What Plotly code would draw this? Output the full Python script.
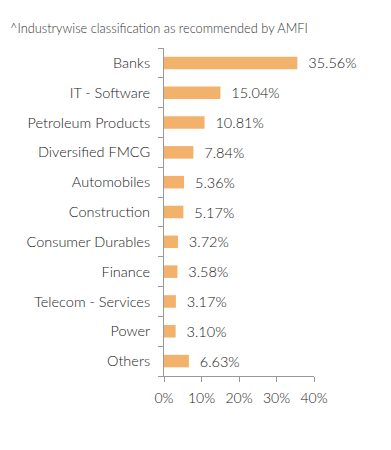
import plotly.graph_objects as go

categories = ["Banks", "IT - Software", "Petroleum Products", "Diversified FMCG", "Automobiles",
              "Construction", "Consumer Durables", "Finance", "Telecom - Services", "Power", "Others"]
values = [35.56, 15.04, 10.81, 7.84, 5.36, 5.17, 3.72, 3.58, 3.17, 3.10, 6.63]
labels = ["35.56%", "15.04%", "10.81%", "7.84%", "5.36%", "5.17%", "3.72%", "3.58%", "3.17%", "3.10%", "6.63%"]
x_ticks = [0, 10, 20, 30, 40]
x_tick_labels = ["0%", "10%", "20%", "30%", "40%"]

fig = go.Figure(go.Bar(
    x=values, y=categories, orientation="h",
    marker=dict(color="#F2B26B", line=dict(width=0)),
    width=0.42,
    text=["  " + t for t in labels], textposition="outside",
    textfont=dict(size=14.5, color="#222222", family="Lato", weight=300),
    constraintext="none",
    cliponaxis=False,
))

fig.update_layout(
    width=383, height=442,
    margin=dict(l=156, r=77, t=40, b=74, autoexpand=False),
    plot_bgcolor="white", paper_bgcolor="white",
    font=dict(family="Lato", size=14, color="#222222", weight=300),
    showlegend=False,
    annotations=[dict(text="^Industrywise classification as recommended by AMFI",
                      xref="paper", yref="paper", x=-156/150, y=1 + 20/328,
                      xanchor="left", yanchor="middle", showarrow=False,
                      font=dict(size=12.8, color="#333333", family="Lato", weight=300))],
)
fig.update_xaxes(range=[0, 40], tickvals=x_ticks, ticktext=x_tick_labels,
                 showgrid=False, zeroline=False, showline=True, linecolor="#999999",
                 ticks="outside", ticklen=5, tickcolor="#999999", automargin=False,
                 ticklabelstandoff=4,
                 tickfont=dict(size=14, color="#222222", weight=300))
fig.update_yaxes(categoryorder="array", categoryarray=categories[::-1],
                 showgrid=False, showline=True, linecolor="#999999", automargin=False,
                 ticks="outside", ticklen=5, tickcolor="#999999", tickson="boundaries",
                 ticklabelstandoff=10,
                 tickfont=dict(size=14.5, color="#222222", weight=300))

fig.write_html("out.html")
